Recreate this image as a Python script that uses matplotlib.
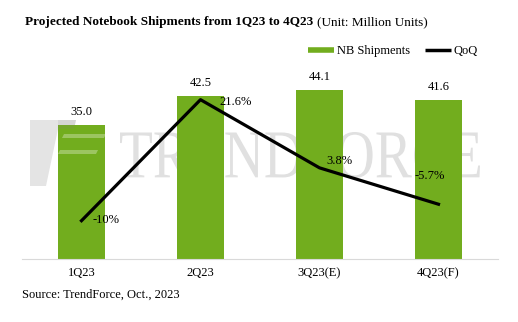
import matplotlib

matplotlib.use("Agg")
import matplotlib.pyplot as plt
from matplotlib.font_manager import FontProperties
from matplotlib.lines import Line2D
from matplotlib.patches import PathPatch, Polygon
from matplotlib.textpath import TextPath
from matplotlib.transforms import Affine2D

plt.rcParams["font.family"] = ["Liberation Serif", "DejaVu Serif"]

quarters = ["1Q23", "2Q23", "3Q23(E)", "4Q23(F)"]
shipments = [35.0, 42.5, 44.1, 41.6]
qoq = [-10.0, 21.6, 3.8, -5.7]
qoq_labels = ["-10%", "21.6%", "3.8%", "-5.7%"]

GREEN = "#72ad1e"
W, H = 518, 322


def fx(px):
    return px / W


def fy(py):
    return 1 - py / H


fig = plt.figure(figsize=(W / 100, H / 100), dpi=100)
ax = fig.add_axes([fx(22), fy(259), fx(476), 191.5 / H])
ax.patch.set_visible(False)

# watermark: logo + wordmark, drawn in figure coords behind the axes
logo = Polygon(
    [(fx(30), fy(120)), (fx(76), fy(120)), (fx(74), fy(129)), (fx(58), fy(129)),
     (fx(46), fy(186)), (fx(30), fy(186))],
    closed=True, transform=fig.transFigure, facecolor="#e4e4e4", edgecolor="none", zorder=-2)
fig.patches.append(logo)
# faint tint where the logo's top bar crosses the first bar
tint = Polygon(
    [(fx(58), fy(120)), (fx(76), fy(120)), (fx(74), fy(129)), (fx(58), fy(129))],
    closed=True, transform=fig.transFigure, facecolor="#808080", alpha=0.15,
    edgecolor="none", zorder=5)
fig.patches.append(tint)
for y0, x0, x1 in [(134, 62, 104), (150, 58, 96)]:
    stripe = Polygon(
        [(fx(x0 + 2), fy(y0)), (fx(x1 + 2), fy(y0)), (fx(x1), fy(y0 + 4)), (fx(x0), fy(y0 + 4))],
        closed=True, transform=fig.transFigure, facecolor="white", alpha=0.3,
        edgecolor="none", zorder=5)
    fig.patches.append(stripe)

tp = TextPath((0, 0), "TRENDFORCE", size=1, prop=FontProperties(family="Liberation Serif"))
ext = tp.get_extents()
sx = fx(360) / ext.width
sy = (46 / H) / ext.height
wm = PathPatch(
    tp, facecolor="#e0e0e0", edgecolor="none", zorder=-2,
    transform=Affine2D().translate(-ext.x0, -ext.y0).scale(sx, sy).translate(fx(120), fy(178))
    + fig.transFigure)
fig.patches.append(wm)

x = range(len(quarters))
ax.bar(x, shipments, width=0.40, color=GREEN, zorder=2)
for i, v in enumerate(shipments):
    ax.annotate(f"{v:.1f}", (i, v), xytext=(0, 5), textcoords="offset points",
                ha="center", va="bottom", fontsize=9)

ax.set_xlim(-0.5, len(quarters) - 0.5)
ax.set_ylim(0, 50)
ax.set_yticks([])
ax.set_xticks(list(x), quarters, fontsize=9)
ax.tick_params(axis="x", length=0, pad=6)
for side in ("top", "right", "left"):
    ax.spines[side].set_visible(False)
ax.spines["bottom"].set_color("#d9d9d9")

ax2 = ax.twinx()
ax2.set_ylim(-20, 30)
ax2.axis("off")
ax2.plot(list(x), qoq, color="black", lw=2.3, solid_joinstyle="round", zorder=3)
# label offsets in pixels (dx, dy up), alignment
offsets = [(11, 1, "left"), (19, -2, "left"), (7, 7, "left"), (-9, 28, "center")]
for i, (v, lab) in enumerate(zip(qoq, qoq_labels)):
    dx, dy, ha = offsets[i]
    ax2.annotate(lab, (i, v), xytext=(dx * 0.72, dy * 0.72), textcoords="offset points",
                 ha=ha, va="center", fontsize=9)

t1 = fig.text(fx(25), fy(22), "Projected Notebook Shipments from 1Q23 to 4Q23",
              fontsize=9.5, fontweight="bold", va="center", ha="left")
ax.annotate("(Unit: Million Units)", xy=(1, 0.5), xycoords=t1, xytext=(3, 0),
            textcoords="offset points", va="center", ha="left", fontsize=9.5,
            annotation_clip=False)

handles = [Line2D([], [], color=GREEN, lw=4, solid_capstyle="butt"),
           Line2D([], [], color="black", lw=2.5, solid_capstyle="butt")]
fig.legend(handles, ["NB Shipments", "QoQ"], loc="center left",
           bbox_to_anchor=(fx(308), fy(51)), bbox_transform=fig.transFigure,
           ncol=2, frameon=False, fontsize=9, handlelength=2.1, handletextpad=0.2,
           columnspacing=1.2, borderpad=0, borderaxespad=0)

fig.text(fx(22), fy(295), "Source: TrendForce, Oct., 2023", fontsize=9, va="center", ha="left")

fig.savefig("out.png", dpi=100)
